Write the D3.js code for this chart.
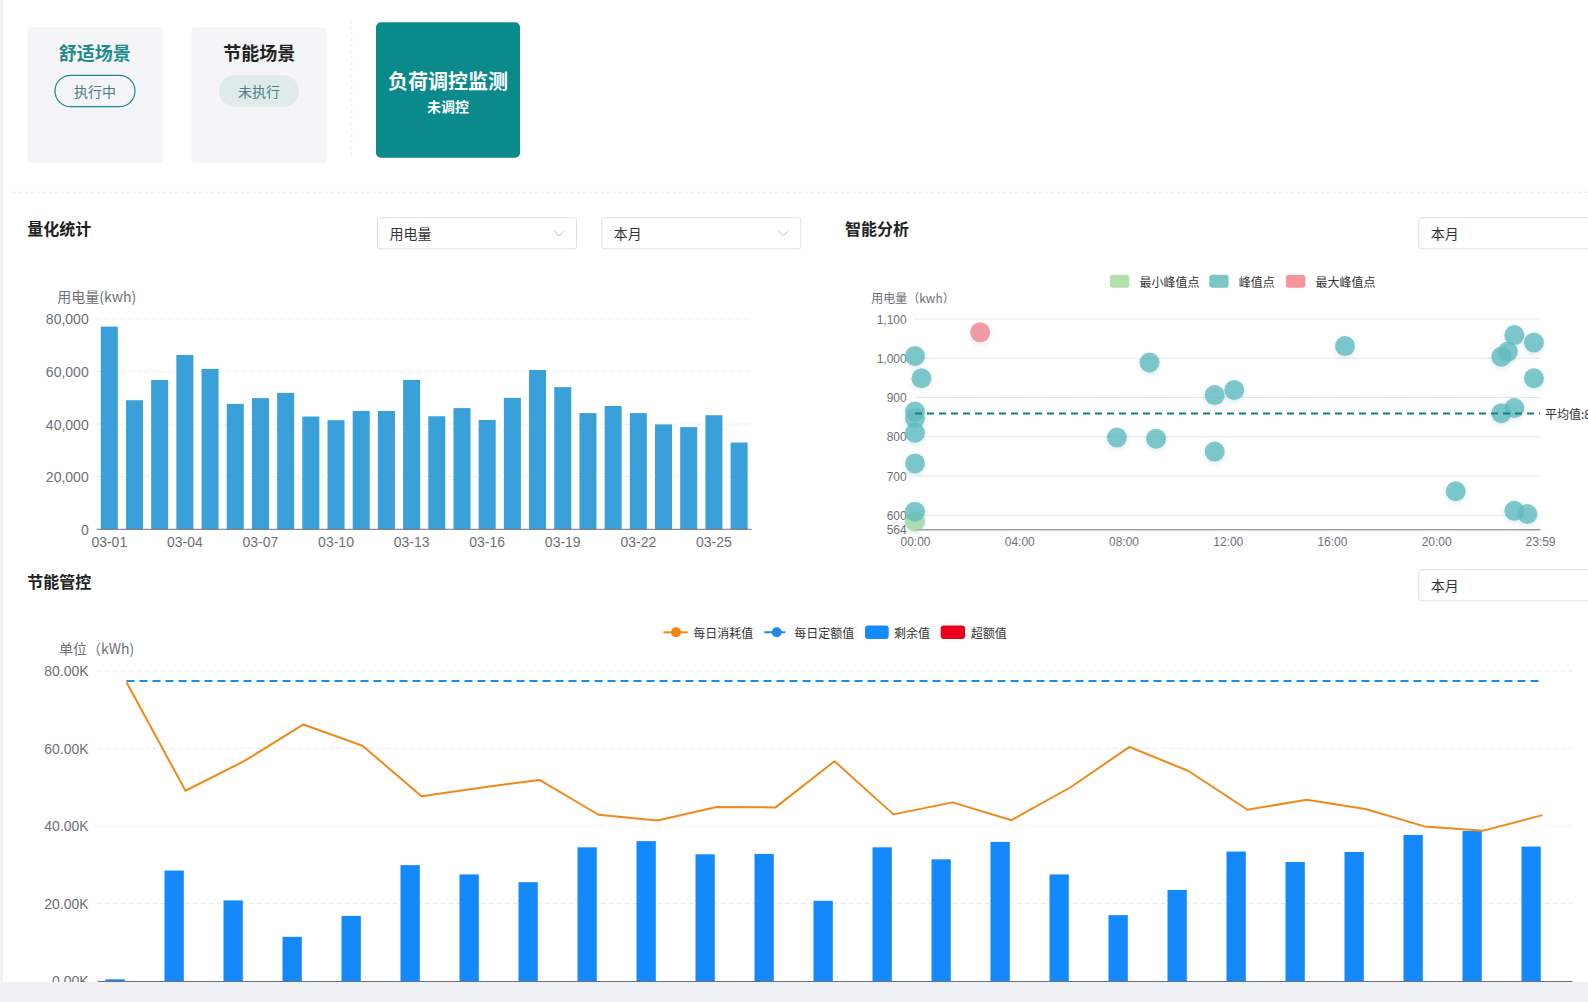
<!DOCTYPE html>
<html>
<head>
<meta charset="utf-8">
<script src="https://cdn.jsdelivr.net/npm/d3@7/dist/d3.min.js"></script>
<style>
html,body{margin:0;padding:0;background:#f0f1f5;overflow:hidden;}
svg{display:block;font-family:"Noto Sans CJK SC","Noto Sans",sans-serif;}
</style>
</head>
<body>
<svg id="c" width="1588" height="1002"></svg>
<script>
// ---------------- DATA ----------------
// 量化统计 (用电量, 本月)
const quantDates = ["03-01","03-02","03-03","03-04","03-05","03-06","03-07","03-08","03-09","03-10","03-11","03-12","03-13",
                    "03-14","03-15","03-16","03-17","03-18","03-19","03-20","03-21","03-22","03-23","03-24","03-25","03-26"];
const quantValues = [77100,49100,56800,66300,61000,47700,49900,51900,42900,41500,45000,45000,56800,
                     43000,46100,41600,50000,60600,54100,44200,46900,44200,39900,38900,43400,33000];
const quantTicks = [0,20000,40000,60000,80000];
const quantAxisName = "用电量(kwh)";

// 智能分析 (峰值点散点)
const scatterTicks = [564,600,700,800,900,1000,1100];
const timeTicks = ["00:00","04:00","08:00","12:00","16:00","20:00","23:59"];
const minPeakTimes = ["00:00"];
const minPeakValues = [584];
const peakTimes = ["00:00","00:15","00:00","00:00","00:00","00:00","00:00","07:45","09:00","09:15","11:30","12:15",
                   "11:30","16:30","20:45","22:30","22:45","23:00","23:45","23:45","22:30","23:00","23:00","23:30"];
const peakValues = [1006,949,864,847,810,732,609,798,989,795,906,919,
                    762,1031,661,1004,1017,1059,1040,949,860,873,611,603];
const maxPeakTimes = ["02:30"];
const maxPeakValues = [1066];
const averageValue = 859.39;
const scatterLegend = ["最小峰值点","峰值点","最大峰值点"];

// 节能管控
const ctrlDates = ["03-01","03-02","03-03","03-04","03-05","03-06","03-07","03-08","03-09","03-10","03-11","03-12","03-13",
                   "03-14","03-15","03-16","03-17","03-18","03-19","03-20","03-21","03-22","03-23","03-24","03-25"];
const dailyUse = [77100,49100,56800,66200,60700,47700,49900,51900,42900,41400,44900,44800,56700,
                  43000,46100,41500,50000,60400,54200,44200,46800,44400,39900,38800,42800];
const dailyQuota = [77400,77400,77400,77400,77400,77400,77400,77400,77400,77400,77400,77400,77400,
                    77400,77400,77400,77400,77400,77400,77400,77400,77400,77400,77400,77400];
const remainValues = [440,28500,20800,11400,16800,29900,27500,25500,34500,36100,32700,32800,20700,
                      34500,31400,35900,27500,17000,23500,33400,30700,33300,37700,38700,34700];
const excessValues = [0,0,0,0,0,0,0,0,0,0,0,0,0,0,0,0,0,0,0,0,0,0,0,0,0];
const ctrlTicks = [0,20000,40000,60000,80000];
const ctrlLegend = ["每日消耗值","每日定额值","剩余值","超额值"];

// ---------------- DRAW ----------------
const svg = d3.select("#c");
const AX = "#6e7079";
const GRID = "#e3e6ee";

const defs = svg.append("defs");
const flt = defs.append("filter").attr("id","sh").attr("x","-50%").attr("y","-50%").attr("width","200%").attr("height","200%");
flt.append("feDropShadow").attr("dx",0).attr("dy",2).attr("stdDeviation",2.2)
  .attr("flood-color","#3a7fa8").attr("flood-opacity",0.2);

// white page panel
svg.append("rect").attr("x",3).attr("y",0).attr("width",1585).attr("height",982).attr("fill","#fff");

// ---- scene cards ----
const cards = svg.append("g");
cards.append("rect").attr("x",27.3).attr("y",27.3).attr("width",135).attr("height",135.4).attr("rx",4).attr("fill","#f5f5f7");
cards.append("rect").attr("x",191.7).attr("y",27.3).attr("width",135).attr("height",135.4).attr("rx",4).attr("fill","#f5f5f7");
cards.append("line").attr("x1",351.7).attr("x2",351.7).attr("y1",20).attr("y2",158)
  .attr("stroke","#ececf0").attr("stroke-dasharray","3,3");
cards.append("rect").attr("x",376).attr("y",22.3).attr("width",144).attr("height",135.4).attr("rx",5).attr("fill","#0a8a8a");

cards.append("text").attr("x",94.8).attr("y",51.7).attr("text-anchor","middle").attr("dominant-baseline","central")
  .attr("font-size",18).attr("font-weight",700).attr("fill","#1b8a8c").text("舒适场景");
cards.append("rect").attr("x",55).attr("y",75.3).attr("width",80).attr("height",31.4).attr("rx",15.7)
  .attr("fill","none").attr("stroke","#1b8a8c").attr("stroke-width",1.2);
cards.append("text").attr("x",95).attr("y",91).attr("text-anchor","middle").attr("dominant-baseline","central")
  .attr("font-size",14).attr("fill","#4a7f80").text("执行中");

cards.append("text").attr("x",259.2).attr("y",51.7).attr("text-anchor","middle").attr("dominant-baseline","central")
  .attr("font-size",18).attr("font-weight",700).attr("fill","#222").text("节能场景");
cards.append("rect").attr("x",219).attr("y",75.3).attr("width",80).attr("height",31.4).attr("rx",15.7).attr("fill","#dfeaea");
cards.append("text").attr("x",259).attr("y",91).attr("text-anchor","middle").attr("dominant-baseline","central")
  .attr("font-size",14).attr("fill","#4a8283").text("未执行");

cards.append("text").attr("x",448).attr("y",80).attr("text-anchor","middle").attr("dominant-baseline","central")
  .attr("font-size",20).attr("font-weight",700).attr("fill","#fff").text("负荷调控监测");
cards.append("text").attr("x",448).attr("y",106.3).attr("text-anchor","middle").attr("dominant-baseline","central")
  .attr("font-size",14).attr("font-weight",700).attr("fill","#fff").text("未调控");

svg.append("line").attr("x1",13).attr("x2",1588).attr("y1",192.3).attr("y2",192.3)
  .attr("stroke","#ececf0").attr("stroke-dasharray","3,3");

// ---- section titles ----
function title(x,y,t){
  svg.append("text").attr("x",x).attr("y",y).attr("dominant-baseline","central")
    .attr("font-size",16).attr("font-weight",700).attr("fill","#222").text(t);
}
title(27.3,228,"量化统计");
title(845,228,"智能分析");
title(27.3,580.5,"节能管控");

function select(x,y,w,t,chev){
  const g = svg.append("g");
  g.append("rect").attr("x",x+0.5).attr("y",y+0.5).attr("width",w).attr("height",31).attr("rx",2)
    .attr("fill","#fff").attr("stroke","#dcdfe6");
  g.append("text").attr("x",x+12.5).attr("y",y+16).attr("dominant-baseline","central")
    .attr("font-size",14).attr("fill","#333").text(t);
  if(chev){
    g.append("polyline").attr("points",[[x+w-22,y+13.5],[x+w-17,y+18.5],[x+w-12,y+13.5]].map(p=>p.join(",")).join(" "))
      .attr("fill","none").attr("stroke","#b8bcc4").attr("stroke-width",1);
  }
}
select(377,217.3,199,"用电量",true);
select(601.3,217.3,199,"本月",true);
select(1418.3,217.3,200,"本月",false);
select(1418.3,569.3,200,"本月",false);

// ---- 量化统计 bar chart ----
const xQ = d3.scaleBand().domain(quantDates).range([96.7,751.7]).paddingInner(0.325).paddingOuter(0.1625);
const yQ = d3.scaleLinear().domain([0,80000]).range([529.3,319]);
const gQ = svg.append("g");
gQ.selectAll("line.grid").data(quantTicks.filter(d=>d>0)).join("line")
  .attr("x1",96.7).attr("x2",751.7).attr("y1",d=>yQ(d)).attr("y2",d=>yQ(d))
  .attr("stroke",GRID).attr("stroke-dasharray","4,4");
gQ.selectAll("rect.bar").data(quantValues).join("rect")
  .attr("x",(d,i)=>xQ(quantDates[i])).attr("width",xQ.bandwidth())
  .attr("y",d=>yQ(d)).attr("height",d=>yQ(0)-yQ(d)).attr("fill","#3aa0d9");
const yAxQ = gQ.append("g").attr("transform","translate(88.7,0)")
  .call(d3.axisLeft(yQ).tickValues(quantTicks).tickSize(0).tickPadding(0).tickFormat(d3.format(",")));
yAxQ.select(".domain").remove();
yAxQ.selectAll("text").attr("font-size",14).attr("fill",AX).attr("font-family",null).attr("dy","0.35em");
const xAxQ = gQ.append("g").attr("transform","translate(0,529.3)")
  .call(d3.axisBottom(xQ).tickValues(quantDates.filter((d,i)=>i%3===0)).tickSize(0).tickPadding(0));
xAxQ.select(".domain").attr("stroke",AX).attr("d","M96.7,0H751.7");
xAxQ.selectAll("text").attr("font-size",14).attr("fill",AX).attr("font-family",null).attr("y",12.7).attr("dy","0.35em");
gQ.append("text").attr("x",96.7).attr("y",296.3).attr("text-anchor","middle").attr("dominant-baseline","central")
  .attr("font-size",14).attr("fill",AX).text(quantAxisName);

// ---- 智能分析 scatter ----
const toMin = t => { const [h,m] = t.split(":").map(Number); return h*60+m; };
const xS = d3.scaleLinear().domain([0,1439]).range([915,1540]);
const yS = d3.scaleLinear().domain([564,1100]).range([529.3,319]);
const gS = svg.append("g");
gS.selectAll("line.grid").data(scatterTicks.filter(d=>d>564)).join("line")
  .attr("x1",915).attr("x2",1540).attr("y1",d=>yS(d)).attr("y2",d=>yS(d)).attr("stroke",GRID);
const yAxS = gS.append("g").attr("transform","translate(906.7,0)")
  .call(d3.axisLeft(yS).tickValues(scatterTicks).tickSize(0).tickPadding(0).tickFormat(d3.format(",")));
yAxS.select(".domain").remove();
yAxS.selectAll("text").attr("font-size",12).attr("fill",AX).attr("font-family",null).attr("dy","0.35em");
const xAxS = gS.append("g").attr("transform","translate(0,529.3)")
  .call(d3.axisBottom(xS).tickValues(timeTicks.map(toMin)).tickSize(0).tickPadding(0)
    .tickFormat((d,i)=>timeTicks[i]));
xAxS.select(".domain").attr("stroke",AX);
xAxS.selectAll("text").attr("font-size",12).attr("fill",AX).attr("font-family",null).attr("y",12.4).attr("dy","0.35em");
gS.append("text").attr("x",913).attr("y",297.3).attr("text-anchor","middle").attr("dominant-baseline","central")
  .attr("font-size",12).attr("fill",AX).text("用电量（kwh）");

const ptsG = gS.append("g").attr("filter","url(#sh)");
function dots(times,vals,fill,op){
  ptsG.append("g").selectAll("circle").data(vals).join("circle")
    .attr("cx",(d,i)=>xS(toMin(times[i]))).attr("cy",d=>yS(d)).attr("r",10)
    .attr("fill",fill).attr("fill-opacity",op);
}
dots(minPeakTimes,minPeakValues,"#9bd69b",0.75);
dots(peakTimes,peakValues,"#62bcbf",0.8);
dots(maxPeakTimes,maxPeakValues,"#f0868e",0.8);

gS.append("line").attr("x1",xS(0)).attr("x2",xS(1439)).attr("y1",yS(averageValue)).attr("y2",yS(averageValue))
  .attr("stroke","#137f7f").attr("stroke-width",2).attr("stroke-dasharray","7,5");
gS.append("text").attr("x",1545).attr("y",yS(averageValue)).attr("dominant-baseline","central")
  .attr("font-size",12).attr("fill","#333").text("平均值:" + averageValue);

const legS = [{x:1110,c:"#b2e0a9"},{x:1209.3,c:"#7cc6c6"},{x:1286,c:"#f6969c"}];
legS.forEach((l,i)=>{
  gS.append("rect").attr("x",l.x).attr("y",274.7).attr("width",19.3).attr("height",13).attr("rx",3).attr("fill",l.c);
  gS.append("text").attr("x",l.x+29.5).attr("y",281.2).attr("dominant-baseline","central")
    .attr("font-size",12).attr("fill","#333").text(scatterLegend[i]);
});

// ---- 节能管控 ----
const xC = d3.scaleBand().domain(ctrlDates).range([97,1572]).padding(0);
const sub = d3.scaleBand().domain(["剩余值","超额值"]).range([-21,21]).paddingInner(0.15);
const yC = d3.scaleLinear().domain([0,80000]).range([981,671]);
const cx = d => xC(d) + xC.bandwidth()/2;
const gC = svg.append("g");
gC.selectAll("line.grid").data(ctrlTicks.filter(d=>d>0)).join("line")
  .attr("x1",97).attr("x2",1572).attr("y1",d=>yC(d)).attr("y2",d=>yC(d))
  .attr("stroke",GRID).attr("stroke-dasharray","4,4");
gC.append("g").selectAll("rect").data(remainValues).join("rect")
  .attr("x",(d,i)=>cx(ctrlDates[i])+sub("剩余值")).attr("width",sub.bandwidth())
  .attr("y",d=>yC(d)).attr("height",d=>yC(0)-yC(d)).attr("fill","#1389fc");
gC.append("g").selectAll("rect").data(excessValues).join("rect")
  .attr("x",(d,i)=>cx(ctrlDates[i])+sub("超额值")).attr("width",sub.bandwidth())
  .attr("y",d=>yC(d)).attr("height",d=>yC(0)-yC(d)).attr("fill","#e8001c");
const lineC = d3.line().x((d,i)=>cx(ctrlDates[i])).y(d=>yC(d));
gC.append("path").datum(dailyQuota).attr("d",lineC).attr("fill","none")
  .attr("stroke","#1e8ae8").attr("stroke-width",2).attr("stroke-dasharray","8,5");
gC.append("path").datum(dailyUse).attr("d",lineC).attr("fill","none")
  .attr("stroke","#ee8a1a").attr("stroke-width",2).attr("stroke-linejoin","round");

const yAxC = gC.append("g").attr("transform","translate(88.7,0)")
  .call(d3.axisLeft(yC).tickValues(ctrlTicks).tickSize(0).tickPadding(0)
    .tickFormat(d=>(d/1000).toFixed(2)+"K"));
yAxC.select(".domain").remove();
yAxC.selectAll("text").attr("font-size",14).attr("fill",AX).attr("font-family",null).attr("dy","0.35em");
// x axis of 节能管控: its date labels fall below the visible page area in the reference, so only the axis line shows
const xAxC = gC.append("g").attr("transform","translate(0,981)")
  .call(d3.axisBottom(xC).tickSize(0).tickFormat(""));
xAxC.select(".domain").attr("stroke",AX);
gC.append("text").attr("x",96.7).attr("y",647.7).attr("text-anchor","middle").attr("dominant-baseline","central")
  .attr("font-size",14).attr("fill",AX).text("单位（kWh)");

// legend
const lg = gC.append("g");
const ly = 632.3;
lg.append("line").attr("x1",663.3).attr("x2",687.7).attr("y1",ly).attr("y2",ly).attr("stroke","#ee8a1a").attr("stroke-width",2);
lg.append("circle").attr("cx",676).attr("cy",ly).attr("r",5).attr("fill","#f5850f");
lg.append("text").attr("x",693.3).attr("y",ly).attr("dominant-baseline","central").attr("font-size",12).attr("fill","#333").text(ctrlLegend[0]);
lg.append("line").attr("x1",764.3).attr("x2",789.3).attr("y1",ly).attr("y2",ly).attr("stroke","#1e8ae8").attr("stroke-width",2).attr("stroke-dasharray","8,5");
lg.append("circle").attr("cx",776.7).attr("cy",ly).attr("r",5).attr("fill","#1e8ae8");
lg.append("text").attr("x",794.3).attr("y",ly).attr("dominant-baseline","central").attr("font-size",12).attr("fill","#333").text(ctrlLegend[1]);
lg.append("rect").attr("x",865).attr("y",ly-6.7).attr("width",23.7).attr("height",13.4).attr("rx",3).attr("fill","#1389fc");
lg.append("text").attr("x",894).attr("y",ly).attr("dominant-baseline","central").attr("font-size",12).attr("fill","#333").text(ctrlLegend[2]);
lg.append("rect").attr("x",940.7).attr("y",ly-6.7).attr("width",24.3).attr("height",13.4).attr("rx",3).attr("fill","#e8001c");
lg.append("text").attr("x",970.7).attr("y",ly).attr("dominant-baseline","central").attr("font-size",12).attr("fill","#333").text(ctrlLegend[3]);

// page bottom band (content clipped)
svg.append("rect").attr("x",0).attr("y",982).attr("width",1588).attr("height",20).attr("fill","#f0f1f5");
svg.append("rect").attr("x",0).attr("y",0).attr("width",3).attr("height",1002).attr("fill","#f0f1f5");
</script>
</body>
</html>
